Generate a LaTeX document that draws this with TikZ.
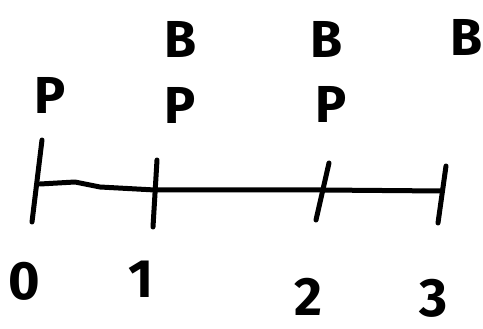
\documentclass[tikz,border=0pt]{standalone}
\usepackage{fontspec}
\setsansfont{Fira Sans}
\usetikzlibrary{positioning}

\begin{document}
\begin{tikzpicture}[x=1pt, y=-1pt,
    axis/.style={line width=5pt, line join=round, line cap=round},
    tickmark/.style={line width=5pt, line cap=round},
    timelbl/.style={font=\sffamily\bfseries\fontsize{54}{56}\selectfont, inner sep=0pt},
    evlbl/.style={font=\sffamily\bfseries\fontsize{52}{56}\selectfont, inner sep=0pt}
]
    \useasboundingbox (0,0) rectangle (483,329);

    % Ticks
    \coordinate (top0) at (42,140);  \coordinate (bot0) at (32,222);
    \coordinate (top1) at (157,160); \coordinate (bot1) at (153,227);
    \coordinate (top2) at (329,163); \coordinate (bot2) at (316,220);
    \coordinate (top3) at (446,166); \coordinate (bot3) at (438,223);

    % Axis points
    \coordinate (t0) at (40,184);
    \coordinate (t1) at (155,190);
    \coordinate (t2) at (322,190);
    \coordinate (t3) at (442,191);

    % Time labels
    \node[timelbl] (n0) at (24,281) {0};
    \node[timelbl] (n1) at (141,279) {1};
    \node[timelbl] (n2) at (308,297) {2};
    \node[timelbl] (n3) at (434,298) {3};

    % P labels
    \node[evlbl] (p0) at (50,95) {P};
    \node[evlbl] (p1) at (180,105) {P};
    \node[evlbl] (p2) at (331,104) {P};

    % B labels
    \node[evlbl] (b1) at (181,39) {B};
    \node[evlbl] (b2) at (327,39) {B};
    \node[evlbl] (b3) at (467,37) {B};

    % Connections
    \draw[axis] (t0) -- ++(35,-2) -- ++(25,5) -- (t1) -- (t2) -- (t3);
    \draw[tickmark] (top0) -- (bot0);
    \draw[tickmark] (top1) -- (bot1);
    \draw[tickmark] (top2) -- (bot2);
    \draw[tickmark] (top3) -- (bot3);

\end{tikzpicture}
\end{document}
